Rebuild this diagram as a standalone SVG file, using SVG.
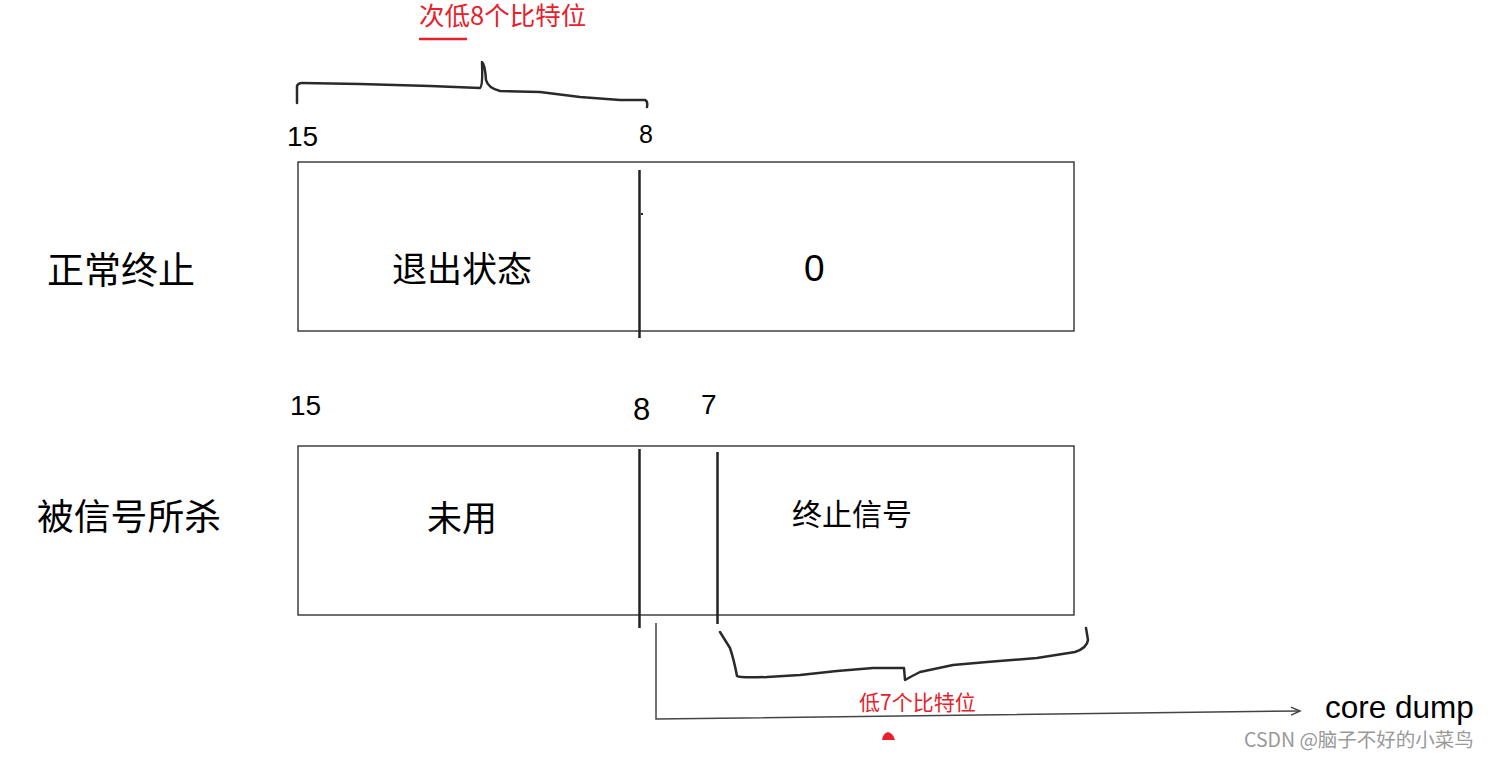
<svg xmlns="http://www.w3.org/2000/svg" width="1491" height="757" viewBox="0 0 1491 757">
<defs>
<marker id="arr" markerWidth="12" markerHeight="10" refX="10" refY="5" orient="auto" markerUnits="userSpaceOnUse">
<path d="M1,1 L10,5 L1,9" fill="none" stroke="#444" stroke-width="1.5"/>
</marker>
<style>
text{font-family:"Microsoft YaHei","Noto Sans CJK SC","Liberation Sans",sans-serif;fill:#000}
.red{fill:#e8202a}
.box{fill:#fff;stroke:#222;stroke-width:1.3}
.div{stroke:#222;stroke-width:2.5;fill:none}
.hand{stroke:#2a2a2a;stroke-width:2.5;fill:none;stroke-linecap:round;stroke-linejoin:round}
.num{font-family:"Liberation Sans","Noto Sans",sans-serif}
</style>
</defs>
<rect width="1491" height="757" fill="#fff"/>

<g id="top-label">
<text class="red" x="419" y="25" font-size="25.5">次低8个比特位</text>
<line x1="419" y1="39" x2="467" y2="39" stroke="#e8202a" stroke-width="2.5"/>
<path class="hand" d="M297,103 L297,86 Q298,83 302,83 L360,84 L430,86 L480,88 Q483,86 482,62 Q485,64 486,80 Q488,88 500,91 L540,92 L580,97 L620,100 L645,100 Q648,101 647,107"/>
</g>

<g id="row1">
<text class="num" x="287" y="146" font-size="28">15</text>
<text class="num" x="639" y="143" font-size="25">8</text>
<rect class="box" x="298" y="162" width="776" height="169"/>
<line class="div" x1="639.5" y1="170" x2="639.5" y2="338"/>
<rect x="641" y="213" width="2" height="2" fill="#222"/>
<text x="47" y="284" font-size="37">正常终止</text>
<text x="392" y="282" font-size="35">退出状态</text>
<text class="num" x="804" y="281" font-size="37">0</text>
</g>

<g id="row2">
<text class="num" x="290" y="415" font-size="28">15</text>
<text class="num" x="633" y="420" font-size="31">8</text>
<text class="num" x="701" y="414" font-size="28">7</text>
<rect class="box" x="298" y="446" width="776" height="169"/>
<line class="div" x1="639.5" y1="449" x2="639.5" y2="628"/>
<line class="div" x1="717.5" y1="452" x2="717.5" y2="624"/>
<text x="37" y="530" font-size="36.8">被信号所杀</text>
<text x="427" y="531" font-size="35">未用</text>
<text x="792" y="525" font-size="30">终止信号</text>
</g>

<g id="low7">
<path class="hand" d="M720,632 L730,648 Q734,660 737,676 Q740,678 767,677 L800,675 L837,671 L873,668 L904,668 L905,680 Q912,676 920,672 L953,665 L987,662 L1037,658 L1075,652 Q1087,648 1088,640 L1086,628"/>
<text class="red" x="859" y="710" font-size="21">低7个比特位</text>
<path d="M882,740 Q883,733 888,732 Q893,733 895,740 Z" fill="#e8202a"/>
</g>

<g id="connectors">
<path d="M656,623 L656,719 L1300,711" fill="none" stroke="#444" stroke-width="1.5" marker-end="url(#arr)"/>
</g>

<g id="core-dump">
<text class="num" x="1325" y="718" font-size="31.5">core dump</text>
</g>

<g id="watermark">
<text x="1244" y="747" font-size="19.5" style="fill:#999">CSDN @脑子不好的小菜鸟</text>
</g>
</svg>
